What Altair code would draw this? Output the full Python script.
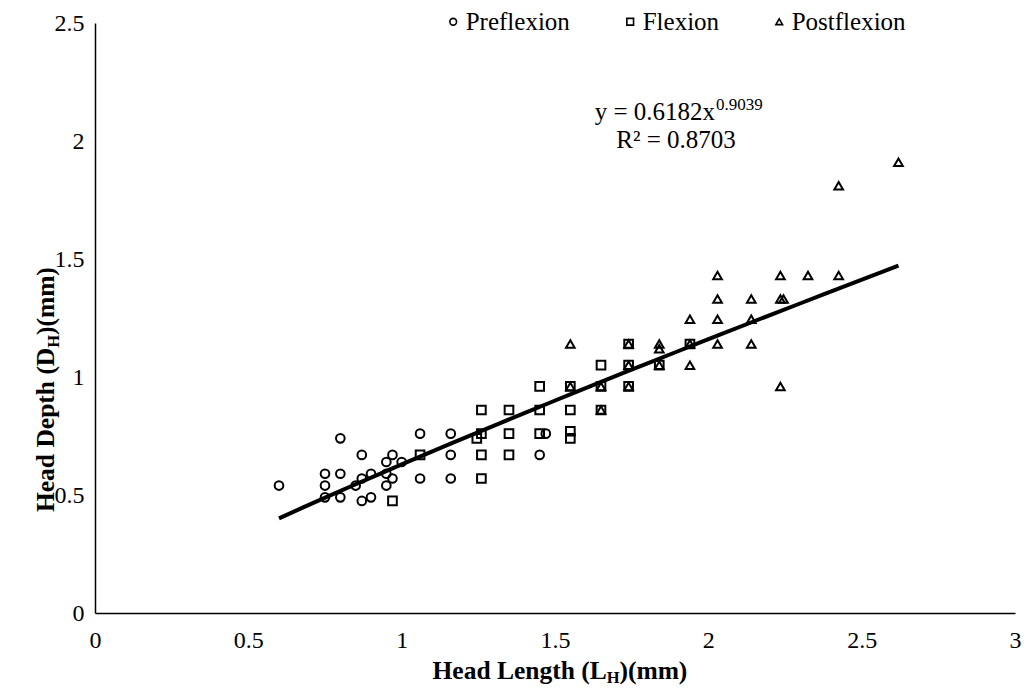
import altair as alt
import pandas as pd

FONT = "Liberation Serif"

stages = ["Preflexion", "Flexion", "Postflexion"]
shapes = ["circle", "square", "triangle-up"]

pre_x = [0.60, 0.75, 0.75, 0.75, 0.80, 0.80, 0.80, 0.85, 0.87, 0.87, 0.87, 0.90, 0.90,
         0.95, 0.95, 0.95, 0.97, 0.97, 1.00, 1.06, 1.06, 1.16, 1.16, 1.16, 1.45, 1.47]
pre_y = [0.54, 0.59, 0.54, 0.49, 0.74, 0.59, 0.49, 0.54, 0.67, 0.57, 0.475, 0.59, 0.49,
         0.64, 0.59, 0.54, 0.67, 0.57, 0.64, 0.76, 0.57, 0.76, 0.67, 0.57, 0.67, 0.76]

flex_x = [0.97, 1.06, 1.245, 1.26, 1.26, 1.26, 1.26, 1.35, 1.35, 1.35, 1.45, 1.45, 1.45,
          1.55, 1.55, 1.55, 1.55, 1.65, 1.65, 1.65, 1.74, 1.74, 1.74, 1.84, 1.94]
flex_y = [0.475, 0.67, 0.74, 0.86, 0.76, 0.67, 0.57, 0.86, 0.76, 0.67, 0.96, 0.86, 0.76,
          0.96, 0.86, 0.77, 0.74, 1.05, 0.96, 0.86, 1.14, 1.05, 0.96, 1.05, 1.14]

post_x = [1.55, 1.55, 1.65, 1.65, 1.74, 1.74, 1.74, 1.84, 1.84, 1.84, 1.94, 1.94, 1.94,
          2.03, 2.03, 2.03, 2.03, 2.14, 2.14, 2.14, 2.235, 2.235, 2.245, 2.235, 2.325,
          2.425, 2.425, 2.62]
post_y = [1.14, 0.96, 0.96, 0.86, 0.96, 1.05, 1.14, 1.14, 1.12, 1.05, 1.05, 1.14, 1.245,
          1.43, 1.33, 1.245, 1.14, 1.33, 1.245, 1.14, 1.43, 1.33, 1.33, 0.96, 1.43,
          1.43, 1.81, 1.91]

x_ticks = [0, 0.5, 1, 1.5, 2, 2.5, 3]
y_ticks = [0, 0.5, 1, 1.5, 2, 2.5]

eq_main = "y = 0.6182x"
eq_exp = "0.9039"
eq_r2 = "R\u00b2 = 0.8703"

df = pd.DataFrame({
    "x": pre_x + flex_x + post_x,
    "y": pre_y + flex_y + post_y,
    "stage": [stages[0]] * len(pre_x) + [stages[1]] * len(flex_x) + [stages[2]] * len(post_x),
})

W, H = 920, 590

x_enc = alt.X("x:Q", scale=alt.Scale(domain=[0, 3], nice=False, zero=False),
              axis=alt.Axis(values=x_ticks, title=None, grid=False, ticks=False,
                            labelFontSize=24, labelFont=FONT, labelColor="black",
                            labelPadding=15, labelFlush=False, format="~g",
                            domainColor="black", domainWidth=1.5, labelOverlap=False))
y_enc = alt.Y("y:Q", scale=alt.Scale(domain=[0, 2.5], nice=False, zero=False),
              axis=alt.Axis(values=y_ticks, title=None, grid=False, ticks=False,
                            labelFontSize=24, labelFont=FONT, labelColor="black",
                            labelPadding=11, labelFlush=False, format="~g",
                            domainColor="black", domainWidth=1.5, labelOverlap=False))

points = alt.Chart(df).mark_point(filled=False, strokeWidth=2, size=75, color="black",
                                  opacity=1).encode(
    x=x_enc,
    y=y_enc,
    shape=alt.Shape("stage:N", scale=alt.Scale(domain=stages, range=shapes),
                    legend=alt.Legend(title=None, orient="none", legendX=345.7, legendY=-14,
                                      direction="horizontal", columns=3, columnPadding=47,
                                      labelFont=FONT, labelFontSize=25, labelColor="black",
                                      labelOffset=0, symbolSize=45, symbolStrokeWidth=1.6,
                                      symbolStrokeColor="black", symbolFillColor="white",
                                      padding=0)),
)

trend = alt.Chart(df).transform_regression(
    "x", "y", method="pow", extent=[0.6, 2.62]
).mark_line(color="black", strokeWidth=4).encode(x="x:Q", y="y:Q")

def txt(s, px, py, size, align, bold=False, angle=0):
    return alt.Chart(pd.DataFrame({"t": [s]})).mark_text(
        font=FONT, fontSize=size, align=align, baseline="alphabetic", color="black",
        fontWeight="bold" if bold else "normal", angle=angle
    ).encode(text="t:N", x=alt.value(px), y=alt.value(py))

texts = [
    txt(eq_main, 620, 97, 25, "right"),
    txt(eq_exp, 621, 87, 17, "left"),
    txt(eq_r2, 581, 125, 25, "center"),
    # x axis title with subscript
    txt("Head Length (L", 511.8, 656, 25.5, "right", bold=True),
    txt("H", 511.8, 660, 16.5, "left", bold=True),
    txt(")(mm)", 524.4, 656, 25.5, "left", bold=True),
    # y axis title with subscript (rotated)
    txt("Head Depth (D", -41, 324.7, 25.5, "right", bold=True, angle=270),
    txt("H", -36, 324.7, 16.5, "left", bold=True, angle=270),
    txt(")(mm)", -41, 312.1, 25.5, "left", bold=True, angle=270),
]

chart = alt.layer(points, trend, *texts).properties(
    width=W, height=H,
    autosize=alt.AutoSizeParams(type="none"),
    padding={"left": 87, "top": 15, "right": 6, "bottom": 74},
).configure_view(stroke=None)

chart.save("out.html", embed_options={"renderer": "svg", "actions": False})
